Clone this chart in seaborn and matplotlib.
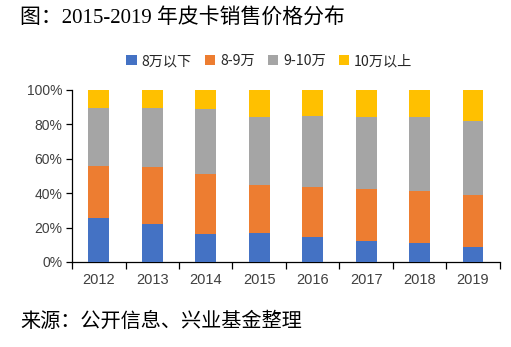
import numpy as np
import pandas as pd
import matplotlib
matplotlib.use("Agg")
import matplotlib.pyplot as plt
import seaborn as sns
from matplotlib.patches import Patch

years = ["2012", "2013", "2014", "2015", "2016", "2017", "2018", "2019"]
series_names = ["8万以下", "8-9万", "9-10万", "10万以上"]
below8 = [25.8, 22.3, 16.5, 16.9, 14.5, 12.2, 11.0, 8.7]
r8_9 = [30.2, 32.9, 34.9, 27.9, 29.1, 30.2, 30.3, 30.3]
r9_10 = [33.7, 34.5, 37.6, 39.5, 41.5, 41.9, 43.0, 43.0]
above10 = [10.3, 10.3, 11.0, 15.7, 14.9, 15.7, 15.7, 18.0]
colors = ["#4472C4", "#ED7D31", "#A5A5A5", "#FFC000"]
yticks = [0, 20, 40, 60, 80, 100]
ytick_labels = ["0%", "20%", "40%", "60%", "80%", "100%"]

sns.set_style("white")
plt.rcParams["font.family"] = ["Liberation Sans", "Noto Sans CJK SC", "DejaVu Sans"]

segs = np.array([below8, r8_9, r9_10, above10])
cum = np.cumsum(segs, axis=0)

fig = plt.figure(figsize=(5.11, 3.47), dpi=100)
ax = fig.add_axes([0.141, 0.245, 0.837, 0.496])

# draw from top of stack downward so lower segments overlay
for i in range(3, -1, -1):
    df = pd.DataFrame({"year": years, "value": cum[i]})
    sns.barplot(data=df, x="year", y="value", color=colors[i], width=0.39,
                saturation=1, ax=ax, linewidth=0, zorder=2 + (3 - i))

ax.set_xlim(-0.5, len(years) - 0.5)
ax.set_ylim(0, 100)
ax.set_yticks(yticks)
ax.set_yticklabels(ytick_labels)
ax.set_xlabel("")
ax.set_ylabel("")
for s in ["top", "right"]:
    ax.spines[s].set_visible(False)
for s in ["left", "bottom"]:
    ax.spines[s].set_color("black")
    ax.spines[s].set_linewidth(0.9)

ax.tick_params(axis="y", which="major", direction="out", length=4, width=0.9,
               color="black", labelsize=10, labelcolor="#404040", pad=3, left=True)
ax.set_xticks(np.arange(len(years)))
ax.set_xticklabels(years)
ax.set_xticks(np.arange(-0.5, len(years)), minor=True)
ax.tick_params(axis="x", which="major", length=0, labelsize=10.5, labelcolor="#404040", pad=8)
ax.tick_params(axis="x", which="minor", direction="out", length=5, width=0.9,
               color="black", bottom=True)

handles = [Patch(facecolor=c, edgecolor="none") for c in colors]
fig.legend(handles, series_names, loc="center", bbox_to_anchor=(0.527, 0.824), ncol=4,
           frameon=False, handlelength=0.75, handleheight=0.75,
           handletextpad=0.35, columnspacing=0.9,
           prop={"family": ["Noto Sans CJK SC", "DejaVu Sans"], "size": 10.2})

fig.text(0.039, 0.947, "图：2015-2019 年皮卡销售价格分布", fontsize=15,
         family=["Liberation Serif", "Noto Sans CJK SC"], ha="left", va="center",
         color="black")
fig.text(0.039, 0.072, "来源：公开信息、兴业基金整理", fontsize=14.5,
         family=["Liberation Serif", "Noto Sans CJK SC"], ha="left", va="center",
         color="black")

fig.savefig("out.png", dpi=100)
